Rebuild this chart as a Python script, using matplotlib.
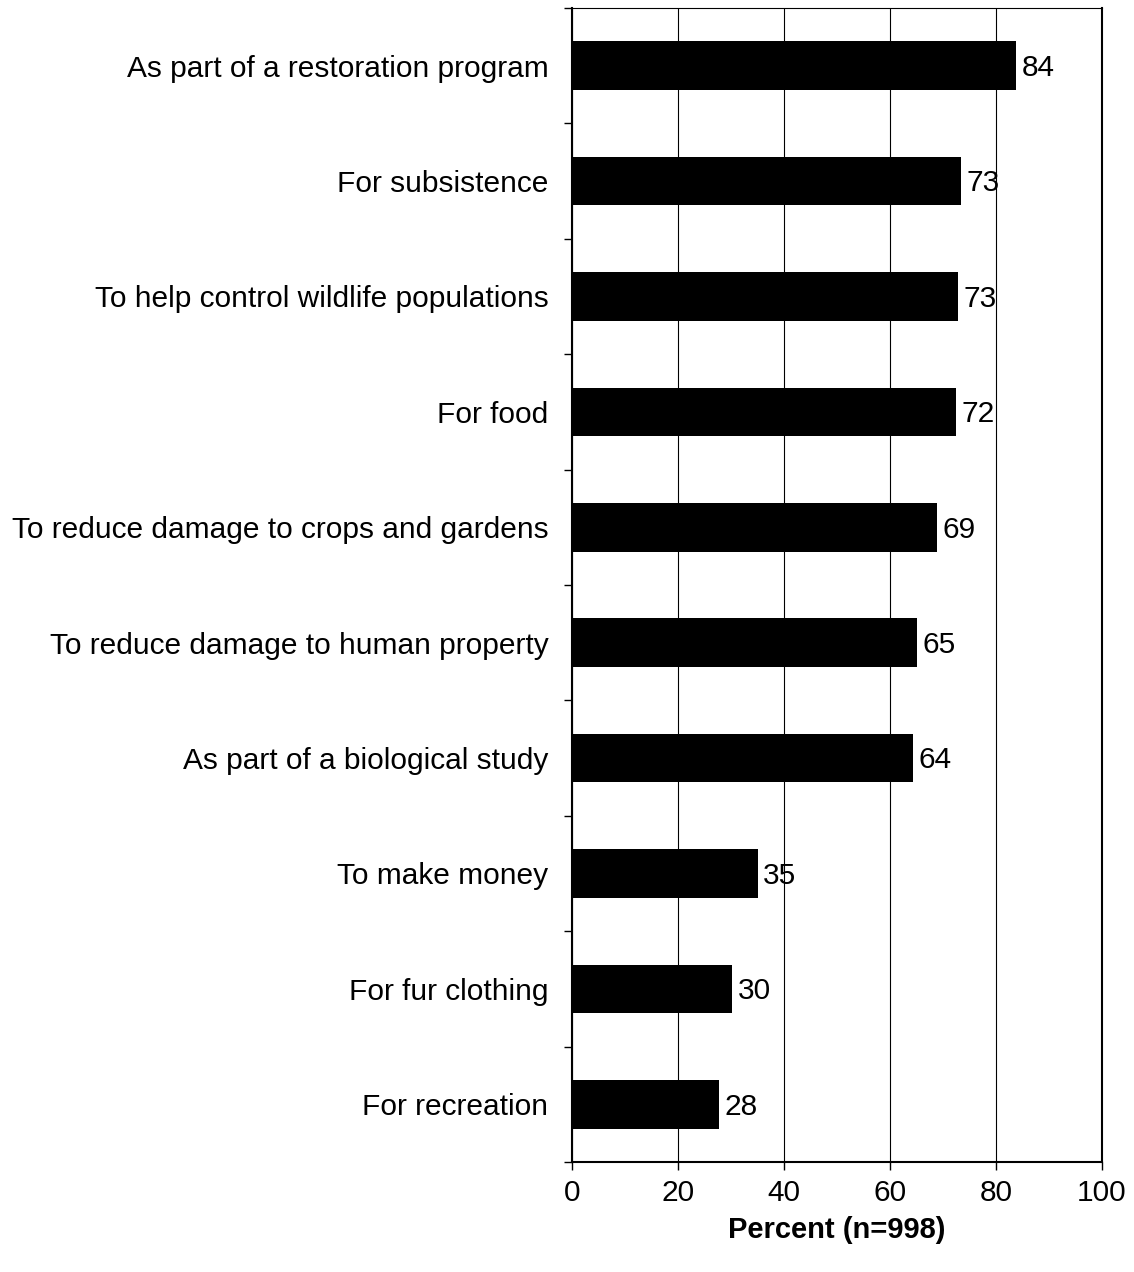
import matplotlib.pyplot as plt
from matplotlib.ticker import FixedLocator

categories = [
    "As part of a restoration program",
    "For subsistence",
    "To help control wildlife populations",
    "For food",
    "To reduce damage to crops and gardens",
    "To reduce damage to human property",
    "As part of a biological study",
    "To make money",
    "For fur clothing",
    "For recreation",
]
values = [83.8, 73.4, 72.8, 72.4, 68.9, 65.1, 64.3, 35.1, 30.2, 27.7]
labels = ["84", "73", "73", "72", "69", "65", "64", "35", "30", "28"]

plt.rcParams['font.family'] = ['Liberation Sans', 'DejaVu Sans']
fs = 21.5

fig = plt.figure(figsize=(11.34, 12.72), dpi=100)
ax = fig.add_axes([572 / 1134, 1 - 1162 / 1272, 530 / 1134, 1154 / 1272])

pos = list(range(len(categories)))
ax.barh(pos, values, height=0.42, color="black", zorder=3)

# value labels to the right of each bar
for p, v, lab in zip(pos, values, labels):
    ax.text(v + 1.0, p + 0.02, lab, va="center", ha="left", fontsize=fs, zorder=4)

ax.set_xlim(0, 100)
ax.set_ylim(len(categories) - 0.5, -0.5)

ax.set_xticks([0, 20, 40, 60, 80, 100])
ax.tick_params(axis="x", direction="out", length=6, width=1, labelsize=fs, pad=6)
ax.grid(axis="x", color="black", linewidth=0.8, zorder=1)

ax.set_yticks(pos)
ax.set_yticklabels(categories)
ax.tick_params(axis="y", which="major", length=0, labelsize=fs, pad=17)
ax.yaxis.set_minor_locator(FixedLocator([i - 0.5 for i in range(len(categories) + 1)]))
ax.tick_params(axis="y", which="minor", direction="out", length=6, width=1)

for side in ["left", "bottom", "right"]:
    ax.spines[side].set_linewidth(1.5)
ax.spines["top"].set_linewidth(0.8)

ax.set_xlabel("Percent (n=998)", fontsize=fs - 0.5, fontweight="bold", labelpad=7)

fig.savefig("out.png", dpi=100)
